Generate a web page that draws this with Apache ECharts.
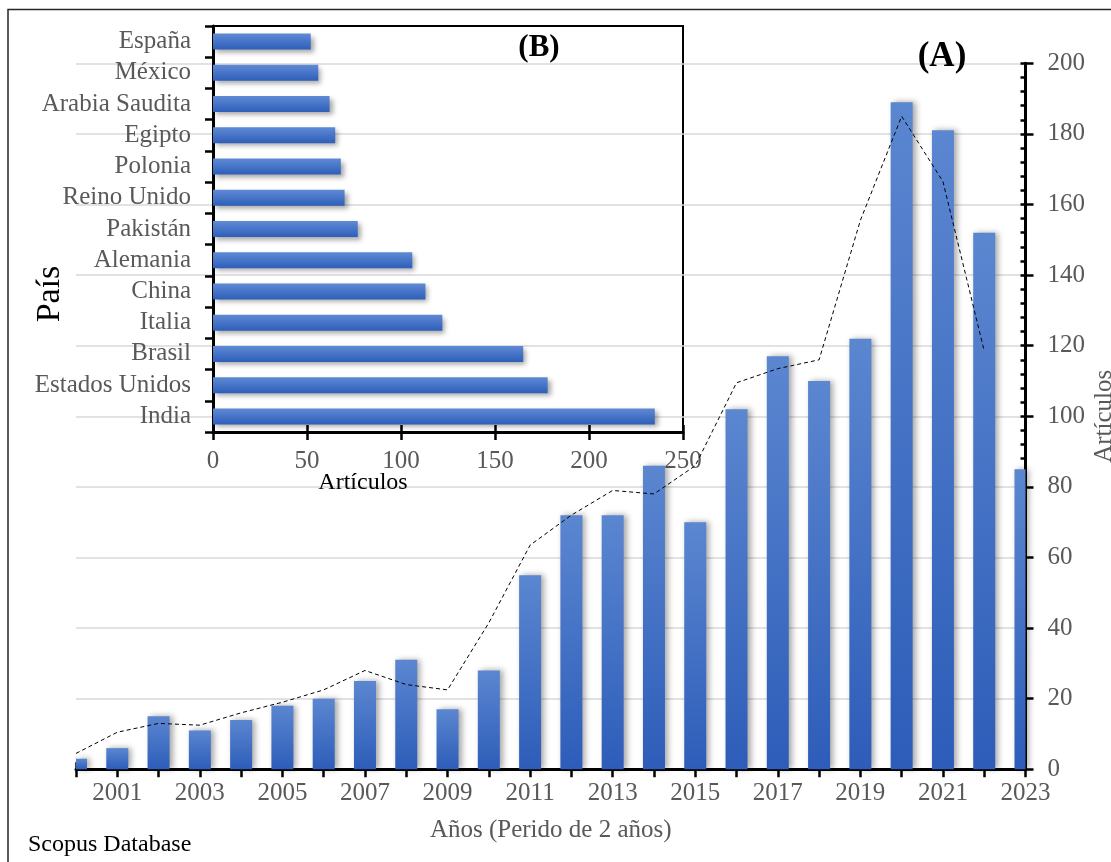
<!DOCTYPE html>
<html>
<head>
<meta charset="utf-8">
<script src="https://cdn.jsdelivr.net/npm/echarts@6/dist/echarts.min.js"></script>
<style>
  html, body { margin: 0; padding: 0; background: #ffffff; overflow: hidden; }
  #chart { width: 1111px; height: 862px; }
</style>
</head>
<body>
<div id="chart"></div>
<script>
// (A) Artículos por año
const anios = ['2000', '2001', '2002', '2003', '2004', '2005', '2006', '2007', '2008', '2009', '2010', '2011',
               '2012', '2013', '2014', '2015', '2016', '2017', '2018', '2019', '2020', '2021', '2022', '2023'];
const articulosAnio = [3, 6, 15, 11, 14, 18, 20, 25, 31, 17, 28, 55,
                       72, 72, 86, 70, 102, 117, 110, 122, 189, 181, 152, 85];
// Tendencia (media móvil de 2 periodos), de 2000 a 2022
const tendencia = [4.5, 10.5, 13, 12.5, 16, 19, 22.5, 28, 24, 22.5, 41.5, 63.5,
                   72, 79, 78, 86, 109.5, 113.5, 116, 155.5, 185, 166.5, 118.5];
const ticksAnio = ['2001', '2003', '2005', '2007', '2009', '2011', '2013', '2015', '2017', '2019', '2021', '2023'];

// (B) Artículos por país
const paises = ['India', 'Estados Unidos', 'Brasil', 'Italia', 'China', 'Alemania', 'Pakistán',
                'Reino Unido', 'Polonia', 'Egipto', 'Arabia Saudita', 'México', 'España'];
const articulosPais = [235, 178, 165, 122, 113, 106, 77, 70, 68, 65, 62, 56, 52];

const FONT = 'Liberation Serif';
const GRIS = '#595959';
const ANCHO_BARRA = 22;

const chart = echarts.init(document.getElementById('chart'), null, { renderer: 'canvas' });

const barGradV = new echarts.graphic.LinearGradient(0, 0, 0, 1, [
  { offset: 0, color: '#5b86d0' },
  { offset: 1, color: '#2d5db9' }
]);
const barGradH = new echarts.graphic.LinearGradient(0, 0, 0, 1, [
  { offset: 0, color: '#5f8ad4' },
  { offset: 1, color: '#2e5eba' }
]);

const tickStyle = { color: '#000', width: 2.5 };

// Barras anuales centradas en cada año y recortadas al área del gráfico,
// de modo que 2000 y 2023 quedan cortadas por los bordes del eje.
function barraAnual(params, api) {
  const top = api.coord([api.value(0), api.value(1)]);
  const base = api.coord([api.value(0), 0]);
  const cs = params.coordSys;
  const rect = echarts.graphic.clipRectByRect(
    { x: top[0] - ANCHO_BARRA / 2, y: top[1], width: ANCHO_BARRA, height: base[1] - top[1] },
    { x: cs.x, y: cs.y, width: cs.width, height: cs.height }
  );
  if (!rect) return null;
  return {
    type: 'rect',
    shape: rect,
    style: {
      fill: barGradV,
      shadowColor: 'rgba(0,0,0,0.35)', shadowBlur: 6, shadowOffsetX: 3, shadowOffsetY: 0
    }
  };
}

const option = {
  backgroundColor: '#ffffff',
  animation: false,
  textStyle: { fontFamily: FONT },
  grid: [
    { left: 76, right: 85.5, top: 63.3, bottom: 92.7, containLabel: false, outerBoundsMode: 'none' },
    { left: 213, right: 428, top: 26, bottom: 430, containLabel: false, outerBoundsMode: 'none',
      show: true, borderColor: '#000', borderWidth: 2, backgroundColor: 'transparent' }
  ],
  xAxis: [
    // eje de años: marcas exteriores y etiquetas
    {
      type: 'category', gridIndex: 0, data: anios, boundaryGap: false,
      axisLine: { show: true, lineStyle: { color: '#000', width: 3 } },
      axisTick: { show: true, interval: 0, length: 8, lineStyle: tickStyle },
      splitLine: { show: false },
      axisLabel: {
        color: GRIS, fontSize: 25, fontFamily: FONT, margin: 12,
        interval: (i, v) => ticksAnio.indexOf(v) >= 0
      },
      name: 'Años (Perido de 2 años)', nameLocation: 'middle', nameGap: 49,
      nameTextStyle: { color: GRIS, fontSize: 25, fontFamily: FONT }
    },
    // eje de años: mitad interior de las marcas cruzadas
    {
      type: 'category', gridIndex: 0, data: anios, boundaryGap: false, position: 'bottom',
      axisLine: { show: false },
      axisTick: { show: true, interval: 0, inside: true, length: 7, lineStyle: tickStyle },
      axisLabel: { show: false }, splitLine: { show: false }
    },
    // eje de artículos del recuadro
    {
      type: 'value', gridIndex: 1, min: 0, max: 250, interval: 50,
      axisLine: { show: true, lineStyle: { color: '#000', width: 3 } },
      axisTick: { show: true, length: 8, lineStyle: tickStyle },
      splitLine: { show: false },
      axisLabel: { color: GRIS, fontSize: 25, fontFamily: FONT, margin: 17 }
    },
    {
      type: 'value', gridIndex: 1, min: 0, max: 250, interval: 50, position: 'bottom',
      axisLine: { show: false },
      axisTick: { show: true, inside: true, length: 7, lineStyle: tickStyle },
      axisLabel: { show: false }, splitLine: { show: false }
    }
  ],
  yAxis: [
    {
      type: 'value', gridIndex: 0, position: 'right', min: 0, max: 200, interval: 20,
      axisLine: { show: true, lineStyle: { color: '#000', width: 3 } },
      axisTick: { show: true, length: 8, lineStyle: tickStyle },
      splitLine: { show: true, lineStyle: { color: '#d9d9d9', width: 1.5 } },
      axisLabel: { color: GRIS, fontSize: 25, fontFamily: FONT, margin: 22 },
      name: 'Artículos', nameLocation: 'middle', nameGap: 66, nameMoveOverlap: false,
      nameTextStyle: { color: GRIS, fontSize: 25, fontFamily: FONT }
    },
    {
      type: 'value', gridIndex: 0, position: 'right', min: 0, max: 200, interval: 20,
      axisLine: { show: false },
      axisTick: { show: true, inside: true, length: 5, lineStyle: tickStyle },
      minorTick: { show: true, splitNumber: 5, length: 5, lineStyle: tickStyle },
      axisLabel: { show: false }, splitLine: { show: false }
    },
    {
      type: 'category', gridIndex: 1, data: paises,
      axisLine: { show: true, lineStyle: { color: '#000', width: 3 } },
      axisTick: { show: true, interval: 0, length: 8, lineStyle: tickStyle },
      axisLabel: { color: GRIS, fontSize: 25, fontFamily: FONT, margin: 22, interval: 0 }
    },
    {
      type: 'category', gridIndex: 1, data: paises,
      axisLine: { show: false },
      axisTick: { show: true, interval: 0, inside: true, length: 7, lineStyle: tickStyle },
      axisLabel: { show: false }, splitLine: { show: false }
    }
  ],
  series: [
    {
      type: 'custom', xAxisIndex: 0, yAxisIndex: 0,
      renderItem: barraAnual,
      encode: { x: 0, y: 1 },
      data: articulosAnio.map((v, i) => [anios[i], v]),
      z: 2
    },
    {
      type: 'line', xAxisIndex: 0, yAxisIndex: 0, symbol: 'none',
      data: tendencia,
      lineStyle: { color: '#000', width: 1, type: [4, 3] },
      z: 3
    },
    {
      type: 'bar', xAxisIndex: 2, yAxisIndex: 2, barWidth: 16,
      data: articulosPais,
      itemStyle: {
        color: barGradH,
        shadowColor: 'rgba(0,0,0,0.35)', shadowBlur: 5, shadowOffsetX: 3, shadowOffsetY: 3
      },
      z: 2
    }
  ],
  graphic: [
    {
      type: 'rect', silent: true, z: 100,
      shape: { x: 8, y: 9.5, width: 1200, height: 1000 },
      style: { fill: 'none', stroke: '#262626', lineWidth: 1.5 }
    },
    {
      type: 'text', z: 100, style: {
        text: '(A)', x: 942, y: 57, textAlign: 'center', textVerticalAlign: 'middle',
        font: 'bold 35px "Liberation Serif"', fill: '#000'
      }
    },
    {
      type: 'text', z: 100, style: {
        text: '(B)', x: 539, y: 48, textAlign: 'center', textVerticalAlign: 'middle',
        font: 'bold 31px "Liberation Serif"', fill: '#000'
      }
    },
    {
      type: 'text', z: 100, x: 50, y: 294, rotation: Math.PI / 2, style: {
        text: 'País', x: 0, y: 0, textAlign: 'center', textVerticalAlign: 'middle',
        font: '34px "Liberation Serif"', fill: '#000'
      }
    },
    {
      type: 'text', z: 100, style: {
        text: 'Artículos', x: 363, y: 483, textAlign: 'center', textVerticalAlign: 'middle',
        font: '24px "Liberation Serif"', fill: '#000'
      }
    },
    {
      type: 'text', z: 100, style: {
        text: 'Scopus Database', x: 28, y: 845, textAlign: 'left', textVerticalAlign: 'middle',
        font: '24px "Liberation Serif"', fill: '#000'
      }
    }
  ]
};

chart.setOption(option);
</script>
</body>
</html>
